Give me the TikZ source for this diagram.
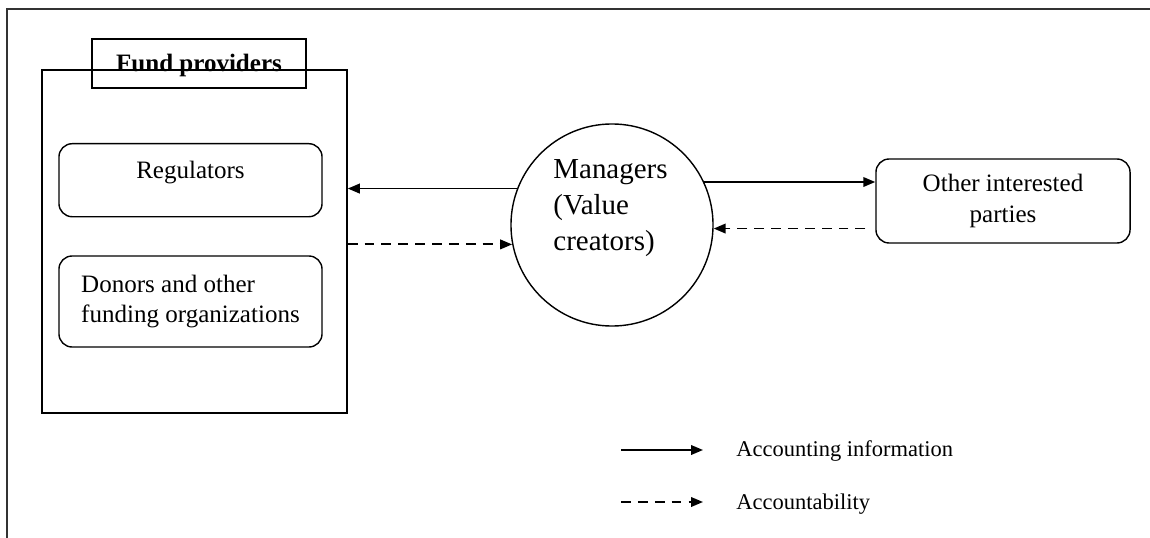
\documentclass[tikz,border=0pt]{standalone}
\usepackage{fontspec}
\setmainfont{Liberation Serif}
\usetikzlibrary{arrows.meta}

\newcommand{\boxfont}{\fontsize{17.8}{22}\selectfont}
\newcommand{\mgrfont}{\fontsize{20.6}{25.6}\selectfont}
\newcommand{\legfont}{\fontsize{16}{20}\selectfont}

\tikzset{
  plainbox/.style={draw, line width=1pt, inner sep=0pt},
  rbox/.style={draw, line width=1pt, rounded corners=0.33cm, font=\boxfont},
  infoarr/.style={line width=1.3pt, -{Triangle[length=0.3cm,width=0.24cm]}},
  dutyarr/.style={infoarr, dash pattern=on 7pt off 5pt}
}

\begin{document}
\begin{tikzpicture}[x=0.025cm, y=-0.025cm]
      \useasboundingbox (0,0) rectangle (1150,538);
      % page frame
      \draw[line width=1.1pt, black!80] (7,538) -- (7,9) -- (1150,9);

      % fund providers group
      \node[plainbox, minimum width=7.625cm, minimum height=8.575cm] (grp) at (194.5,241.5) {};
      \node[plainbox, minimum width=5.35cm, text height=0.8cm, text depth=0.425cm,
            font=\bfseries\boxfont] (fund) at (199,63.5) {Fund providers};
      \node[rbox, anchor=north, minimum width=6.575cm, inner ysep=0pt,
            text height=0.875cm, text depth=0.95cm] (reg) at (190.5,143) {Regulators};
      \node[rbox, minimum width=6.575cm, minimum height=2.275cm,
            align=left] (don) at (190.5,301.5) {Donors and other\\funding organizations};

      % managers and other parties
      \node[draw, circle, line width=1pt, minimum size=5.05cm] (mgr) at (612,225) {};
      \node[font=\mgrfont, align=left, inner sep=0pt] (mgrlbl) at (610.5,208) {Managers\\(Value\\creators)};
      \node[rbox, minimum width=6.35cm, minimum height=2.1cm, align=center] (oth) at (1003,201)
            {Other interested\\parties};

      % flows
      \draw[infoarr] (mgr.159.7) -- (mgr.159.7 -| grp.east);
      \draw[dutyarr] (grp.east |- mgr.191.4) -- (mgr.191.4);
      \draw[infoarr] (mgr.25.2) -- (mgr.25.2 -| oth.west);
      \draw[dutyarr] ([xshift=-0.25cm]oth.west |- mgr.358.3) -- (mgr.358.3);

      % legend
      \coordinate (infoA) at (621,450);
      \coordinate (infoB) at (703,450);
      \coordinate (dutyA) at (621,502);
      \coordinate (dutyB) at (703,502);
      \draw[infoarr] (infoA) -- (infoB);
      \draw[dutyarr] (dutyA) -- (dutyB);
      \node[anchor=base west, font=\legfont, inner sep=0pt] (infolbl) at (736,456) {Accounting information};
      \node[anchor=base west, font=\legfont, inner sep=0pt] (dutylbl) at (736,509) {Accountability};
    \end{tikzpicture}
\end{document}
